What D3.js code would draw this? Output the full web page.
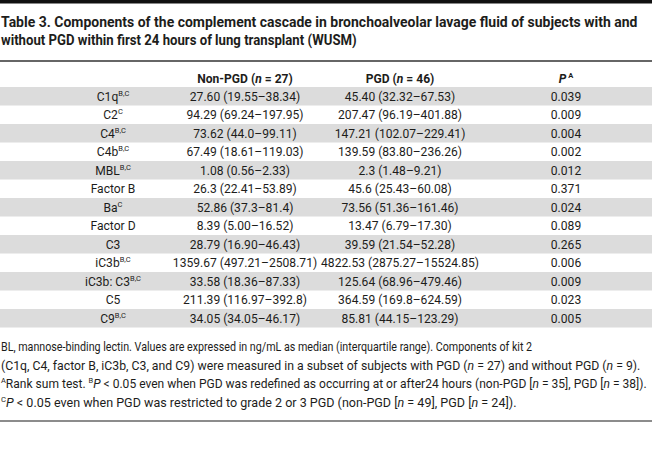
<!DOCTYPE html>
<html><head><meta charset="utf-8">
<script src="https://cdn.jsdelivr.net/npm/d3@7"></script>
<style>
html,body{margin:0;padding:0;background:#fff;}
svg{display:block;font-family:Roboto,"Noto Sans",sans-serif;}
</style></head>
<body>
<svg id="chart" width="652" height="468"></svg>
<script>
// ---- data ----
const titleLines = [
  "Table 3. Components of the complement cascade in bronchoalveolar lavage fluid of subjects with and",
  "without PGD within first 24 hours of lung transplant (WUSM)"
];
const components = ["C1q","C2","C4","C4b","MBL","Factor B","Ba","Factor D","C3","iC3b","iC3b: C3","C5","C9"];
const componentNotes = ["B,C","C","B,C","B,C","B,C","","C","","","B,C","B,C","","B,C"];
const nonPGD = ["27.60 (19.55–38.34)","94.29 (69.24–197.95)","73.62 (44.0–99.11)","67.49 (18.61–119.03)","1.08 (0.56–2.33)","26.3 (22.41–53.89)","52.86 (37.3–81.4)","8.39 (5.00–16.52)","28.79 (16.90–46.43)","1359.67 (497.21–2508.71)","33.58 (18.36–87.33)","211.39 (116.97–392.8)","34.05 (34.05–46.17)"];
const pgd = ["45.40 (32.32–67.53)","207.47 (96.19–401.88)","147.21 (102.07–229.41)","139.59 (83.80–236.26)","2.3 (1.48–9.21)","45.6 (25.43–60.08)","73.56 (51.36–161.46)","13.47 (6.79–17.30)","39.59 (21.54–52.28)","4822.53 (2875.27–15524.85)","125.64 (68.96–479.46)","364.59 (169.8–624.59)","85.81 (44.15–123.29)"];
const pValues = ["0.039","0.009","0.004","0.002","0.012","0.371","0.024","0.089","0.265","0.006","0.009","0.023","0.005"];
const columns = ["label","nonPGD","pgd","p"];
const headers = [
  [],
  [{t:"Non-PGD ("},{t:"n",i:1},{t:" = 27)"}],
  [{t:"PGD ("},{t:"n",i:1},{t:" = 46)"}],
  [{t:"P",i:1},{t:" A",s:1}]
];
const footnotes = [
  [{t:"BL, mannose-binding lectin. Values are expressed in ng/mL as median (interquartile range). Components of kit 2"}],
  [{t:"(C1q, C4, factor B, iC3b, C3, and C9) were measured in a subset of subjects with PGD ("},{t:"n",i:1},{t:" = 27) and without PGD ("},{t:"n",i:1},{t:" = 9)."}],
  [{t:"A",s:1},{t:"Rank sum test. "},{t:"B",s:1},{t:"P",i:1},{t:" < 0.05 even when PGD was redefined as occurring at or after24 hours (non-PGD ["},{t:"n",i:1},{t:" = 35], PGD ["},{t:"n",i:1},{t:" = 38])."}],
  [{t:"C",s:1},{t:"P",i:1},{t:" < 0.05 even when PGD was restricted to grade 2 or 3 PGD (non-PGD ["},{t:"n",i:1},{t:" = 49], PGD ["},{t:"n",i:1},{t:" = 24])."}]
];
const footWidths = [532, 640, 646, 516];
const titleWidths = [637, 356];

// ---- drawing ----
const W = 652, H = 468;
const svg = d3.select("#chart");
const ink = "#1d1d1b";

function rich(parent, segs, size, weight, anchor) {
  const t = parent.append("text")
    .attr("font-size", size).attr("font-weight", weight)
    .attr("fill", ink).attr("text-anchor", anchor);
  let raised = false;
  segs.forEach(sg => {
    const ts = t.append("tspan").text(sg.t);
    if (sg.i) ts.attr("font-style", "italic");
    if (sg.s) { ts.attr("font-size", size * 0.62).attr("dy", raised ? 0 : -size * 0.38); raised = true; }
    else if (raised) { ts.attr("dy", size * 0.38); raised = false; }
  });
  return t;
}
function fitted(segs, x, y, size, weight, width) {
  const g = svg.append("g");
  const t = rich(g, segs, size, weight, "start");
  const w = t.node().getComputedTextLength();
  const sx = width / w;
  g.attr("transform", `translate(${x},${y}) scale(${sx},1)`);
}

// top bar
svg.append("rect").attr("x", 0).attr("y", 0).attr("width", W).attr("height", 3.5).attr("fill", "#111");

// title
titleLines.forEach((l, i) => fitted([{t:l}], 1, 27 + i * 17.5, 14.5, 700, titleWidths[i]));

// rule under title
svg.append("line").attr("x1", 0).attr("x2", W).attr("y1", 61).attr("y2", 61)
  .attr("stroke", "#333").attr("stroke-width", 1.3);

// scales
const y = d3.scaleBand().domain(components).range([87, 87 + 18.5 * components.length]);
const x = d3.scaleOrdinal().domain(columns).range([113, 245, 400, 566]);
const sx = 0.93;

// header
headers.forEach((h, ci) => {
  if (!h.length) return;
  const g = svg.append("g").attr("transform", `translate(${x(columns[ci])},${83}) scale(${sx},1)`);
  rich(g, h, 13, 700, "middle");
});

// rows
const rows = svg.append("g").selectAll("g").data(components).join("g")
  .attr("transform", d => `translate(0,${y(d)})`);
rows.filter((d, i) => i % 2 === 0).append("rect")
  .attr("x", 0).attr("width", W).attr("height", y.bandwidth()).attr("fill", "#dcdcdc");
rows.each(function(d, i) {
  const r = d3.select(this);
  const cells = [
    [{t:d}].concat(componentNotes[i] ? [{t:componentNotes[i], s:1}] : []),
    [{t:nonPGD[i]}],
    [{t:pgd[i]}],
    [{t:pValues[i]}]
  ];
  cells.forEach((c, ci) => {
    const g = r.append("g").attr("transform", `translate(${x(columns[ci])},${y.bandwidth() / 2 + 4.6}) scale(${sx},1)`);
    rich(g, c, 13, 400, "middle");
  });
});

// footnotes
footnotes.forEach((f, i) => fitted(f, 1, 351 + i * 18.5, 12.5, 400, footWidths[i]));

// bottom rule
svg.append("line").attr("x1", 0).attr("x2", W).attr("y1", 421).attr("y2", 421)
  .attr("stroke", "#666").attr("stroke-width", 1.3);
</script>
</body></html>
